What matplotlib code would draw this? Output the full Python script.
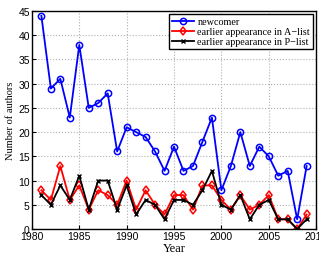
import numpy as np
import matplotlib
matplotlib.use('Agg')
import matplotlib.pyplot as plt

# Values
years = list(range(1981, 2010))
newcomer = [44, 29, 31, 23, 38, 25, 26, 28, 16, 21, 20, 19, 16, 12, 17, 12,
            13, 18, 23, 8, 13, 20, 13, 17, 15, 11, 12, 2, 13]
a_list = [8, 6, 13, 6, 9, 4, 8, 7, 5, 10, 4, 8, 5, 3, 7, 7,
          4, 9, 9, 6, 4, 7, 4, 5, 7, 2, 2, 0, 3]
p_list = [7, 5, 9, 6, 11, 4, 10, 10, 4, 9, 3, 6, 5, 2, 6, 6,
          5, 8, 12, 5, 4, 7, 2, 5, 6, 2, 2, 0, 2]

fig = plt.figure(figsize=(3.19, 2.55), dpi=100)
ax = fig.add_axes([0.100, 0.098, 0.891, 0.855])

ax.plot(years, newcomer, color='blue', marker='o', markersize=4.5, markerfacecolor='none',
        markeredgewidth=1.1, linewidth=1.3, label='newcomer')
ax.plot(years, a_list, color='red', marker='d', markersize=4.5, markerfacecolor='none',
        markeredgewidth=1.1, linewidth=1.3, label='earlier appearance in A\u2212list')
ax.plot(years, p_list, color='black', marker='x', markersize=3, markeredgewidth=1,
        linewidth=1.3, label='earlier appearance in P\u2212list')

ax.set_xlim(1980, 2010)
ax.set_ylim(0, 45)
ax.set_xticks(range(1980, 2011, 5))
ax.set_yticks(range(0, 46, 5))
ax.tick_params(direction='in', length=3, labelsize=7.5, pad=1.5)
for lab in ax.get_xticklabels() + ax.get_yticklabels():
    lab.set_family('Liberation Sans')
ax.grid(True, linestyle=':', color='#b0b0b0', linewidth=0.8)
for s in ax.spines.values():
    s.set_linewidth(1.0)

ax.set_xlabel('Year', family='Liberation Serif', fontsize=9, labelpad=1)
ax.set_ylabel('Number of authors', family='Liberation Serif', fontsize=7.5, labelpad=2)

leg = ax.legend(loc='upper right', prop={'family': 'Liberation Serif', 'size': 7.3},
                fancybox=False, framealpha=1, edgecolor='black', borderpad=0.3,
                labelspacing=0.1, handlelength=2.2, handletextpad=0.3,
                borderaxespad=0.3)
leg.get_frame().set_linewidth(1.0)

fig.savefig('out.png', dpi=100)
